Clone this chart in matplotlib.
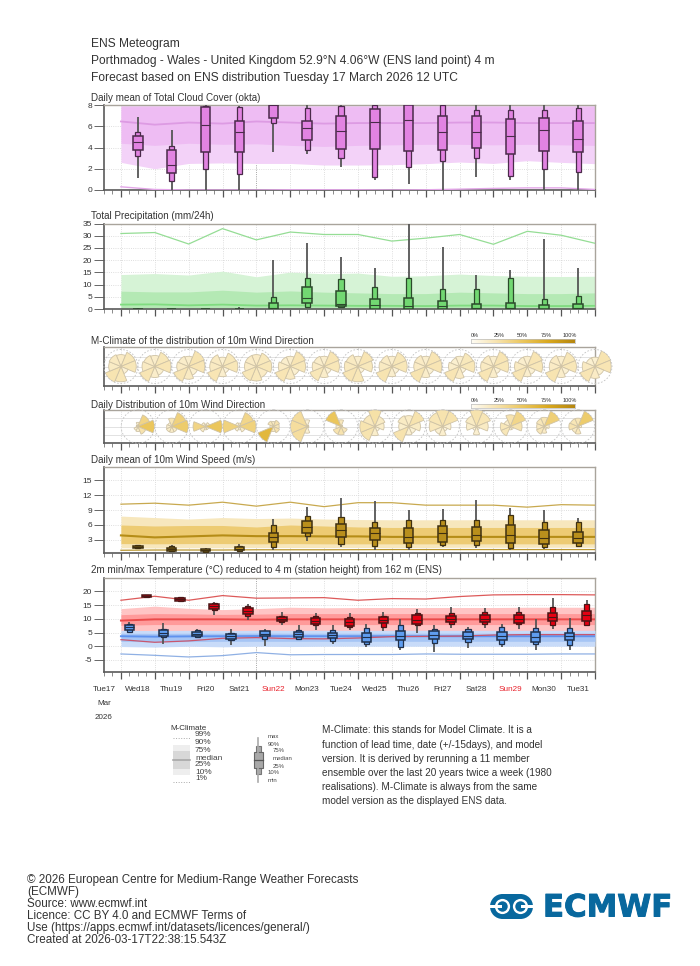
import numpy as np
import matplotlib
matplotlib.use('Agg')
import matplotlib.pyplot as plt
import matplotlib.patheffects as pe
from matplotlib.colors import LinearSegmentedColormap
from matplotlib.patches import Circle, Rectangle
from matplotlib.ticker import MultipleLocator

plt.rcParams['font.family'] = ['Liberation Sans', 'DejaVu Sans']
plt.rcParams['axes.unicode_minus'] = False

W, H = 700, 966
day_labels = ['Tue17','Wed18','Thu19','Fri20','Sat21','Sun22','Mon23','Tue24','Wed25','Thu26','Fri27','Sat28','Sun29','Mon30','Tue31']
climate_days = list(range(1, 16))
box_days = [d + 0.5 for d in range(1, 15)]

# each box row: min, p10, p25, median, p75, p90, max
cloud_boxes = [
 [1.13,3.17,3.8,4.5,5.05,5.45,6.87],[0,.85,1.6,2.32,3.73,4.17,5.67],[0,1.97,3.6,6.14,7.77,7.9,8],
 [0,1.5,3.6,5.42,6.46,7.8,7.93],[3.57,6.27,6.74,8,8,8,8],[3.35,3.76,4.73,5.83,6.46,7.71,8],
 [2.13,3.04,3.89,5.55,7,7.87,8],[.97,1.25,3.89,6.36,7.62,7.96,8],[.56,2.16,3.67,6.6,7.96,8,8],
 [0,2.73,3.73,5.45,6.93,7.96,8],[1.22,2.98,4,5.49,6.96,7.55,8],[.9,1.35,3.39,5.1,6.7,7.49,8],
 [0,1.97,3.64,5.64,6.8,7.55,8],[0,1.69,3.54,4.83,6.49,7.71,8]]
cloud_p1 = [.3,.05,0,0,0,.02,.02,.02,0,.02,.08,.15,.2,.2,.05]
cloud_p10 = [2.6,2.0,2.5,2.55,2.5,2.5,2.35,2.35,2.38,2.48,2.63,2.5,2.76,2.6,2.48]
cloud_p25 = [4.4,4.2,4.4,4.3,4.35,4.2,4.1,4.2,4.25,4.3,4.3,4.25,4.3,4.25,4.2]
cloud_p50 = [6.45,6.15,6.35,6.25,6.45,6.35,6.25,6.3,6.3,6.3,6.35,6.35,6.3,6.3,6.3]
cloud_p75 = [7.85]*15
cloud_p90 = [8]*15

precip_boxes = [
 [0,0,0,.05,.1,.2,.3],[0,0,0,0,0,0,.05],[0,0,0,0,0,0,.05],[0,0,0,0,0,0,.8],
 [0,0,0,.5,2.6,4.9,20],[.8,.8,2.6,4.7,9,12.8,26.9],[.5,.7,1.1,2.2,7.4,12.1,21.4],
 [0,0,0,1.5,4,9,16.6],[0,0,0,1.4,4.7,12.5,35],[0,0,0,1.4,3.4,8,25.2],
 [0,0,0,.5,2.2,8,14.1],[0,0,0,.5,2.6,12.5,15.9],[0,0,0,.2,1.8,4,28.7],[0,0,0,.3,2.2,5.2,16.9]]
precip_p50 = [1.8,1.9,1.5,1.8,1.4,1.5,1.4,1.3,1.3,1.2,1.4,1.4,1.2,1.2,1.3]
precip_p75 = [7.3,7,7,7.7,6.9,7.4,6.9,6.6,6.3,6.3,6.9,6.6,6.3,6.3,6.6]
precip_p90 = [14.1,14.5,13.9,15.5,13.2,15.1,14.4,14.7,13.4,13.6,14.3,13.7,13.4,13.3,13.4]
precip_p99 = [30.9,31.3,26.6,32.9,28.3,31.5,30.5,30.5,27.8,29,30.5,26.5,31.8,30.2,26.9]

wind_boxes = [
 [1.25,1.3,1.45,1.65,1.8,1.9,2.05],[.75,.75,.85,1.2,1.45,1.8,2.05],[.55,.65,.7,.9,1.1,1.2,1.3],
 [.8,.85,.9,1.25,1.5,1.7,2.1],[.9,1.6,2.65,3.5,4.3,5.9,7.2],[2.7,3.75,4.35,5.5,6.9,7.85,9.55],
 [1.6,2.2,3.6,5,6.25,7.6,11.4],[.9,1.7,2.9,4.3,5.4,6.7,10.9],[.9,1.6,2.4,3.5,5.3,7.1,9],
 [1.5,1.9,2.6,4.3,5.7,7.1,9.2],[1.45,1.9,2.7,3.95,5.6,7.1,11],[1.05,1.3,2.4,3.95,6,8.1,9.35],
 [1.1,1.65,2.25,3.3,5,6.6,9],[1.6,1.8,2.4,3.35,4.5,6.7,7.5]]
wind_p1 = [.9,.95,.95,.95,1,1,1,1.02,1.04,1.04,1.04,1.04,1.04,1.04,1.04]
wind_p10 = [1.4,1.35,1.4,1.4,1.45,1.45,1.45,1.45,1.45,1.45,1.5,1.5,1.5,1.5,1.5]
wind_p25 = [2.25,2.2,2.25,2.25,2.2,2.25,2.2,2.2,2.2,2.2,2.2,2.2,2.2,2.2,2.2]
wind_p50 = [3.9,3.5,3.7,3.9,3.75,3.75,3.7,3.7,3.6,3.6,3.6,3.6,3.6,3.6,3.6]
wind_p75 = [6,5.8,5.9,5.9,5.6,6,5.8,5.6,5.5,5.5,5.5,5.5,5.5,5.5,5.5]
wind_p90 = [7.8,7.5,7.2,7.5,7.3,7.4,7.2,7.1,7.05,7.05,7.05,7.05,7.05,7.05,7.05]
wind_p99 = [10.2,10.4,10,10.6,9.8,10.6,9.7,10.5,10.5,10,10,10,9.6,10.1,10]

tmin_boxes = [
 [5.1,5.2,6.05,6.9,7.8,8.25,8.86],[1,3.3,3.9,4.85,5.8,6.4,8.4],[3.15,3.3,3.65,4.4,5.1,5.8,6.4],
 [.35,2.4,2.8,3.65,4.5,5,6.3],[.25,2.55,3.65,4.6,5.45,5.7,6.4],[2.55,2.7,3.3,4.5,5.35,6.05,7.8],
 [1,1.8,2.9,4,5,5.8,7.65],[-.25,.85,1.7,3.3,4.85,6.7,8.25],[-1.2,-.25,2.4,3.9,5.45,7.8,10],
 [-2,1.2,2.55,4,5.45,6.4,7.8],[-.7,1.6,2.65,3.9,5.2,6.4,7.15],[-.25,.7,2.3,3.9,5.2,6.9,8.25],
 [-1.2,.7,1.45,3.5,5.2,6.7,10],[-1.45,.35,2.3,3.65,4.75,6.7,10.2]]
tmax_boxes = [
 [17.85,17.95,18.1,18.3,18.55,18.7,18.8],[16.1,16.4,16.6,17.1,17.6,17.85,18.1],[11.3,13.2,13.6,14.55,15.3,15.65,16],
 [9.45,10.9,11.8,12.85,13.95,14.55,15.3],[7.9,8.75,9.2,9.95,10.8,11.15,12.5],[6.05,7.65,8.25,9.35,10.3,10.9,12.15],
 [6.05,7,7.5,8.75,9.95,10.7,12.15],[5.45,6.9,8.4,9.45,10.55,10.9,12.5],[4.85,7.65,8,9.7,11.3,12.15,13.6],
 [6.55,8.1,8.85,9.95,11.15,12,14.45],[6.55,8,8.85,9.95,11.3,12.4,13.85],[6.4,8,8.6,9.95,11.4,12.4,14.2],
 [6.4,7.9,9.1,10.7,12.25,14.2,17.6],[7.3,7.8,9.35,11.3,12.85,15.5,16.9]]
tmax_p1 = [2.4,1.45,1.95,2.9,3.15,2.8,2.7,3,3.5,3.6,3.7,4.1,4.25,4.25,4.25]
tmax_p10 = [5.5,5.6,5.6,5.6,5.6,5.6,5.6,5.6,5.6,5.6,5.6,5.6,5.6,5.6,5.6]
tmax_p25 = [7.65,7.9,7.9,7.9,7.9,7.9,7.9,7.9,7.9,7.9,7.9,7.9,7.9,7.9,7.9]
tmax_p50 = [9.35,9.8,9.8,9.8,9.7,9.8,9.8,9.8,9.8,9.8,9.8,9.8,9.8,9.8,9.8]
tmax_p75 = [11.5,11.9,11.8,11.6,11.7,11.9,11.9,11.9,11.9,11.9,11.9,11.9,11.9,11.9,11.9]
tmax_p90 = [13.7,14.6,13.8,13.35,13.7,14.2,14,14.1,14.1,14.1,14.1,14.1,14.2,14.2,14.2]
tmax_p99 = [16.75,18.2,16.75,18.45,17.5,17.6,17.7,16.75,17.35,17.2,18.1,18.7,18.8,18.8,18.7]
tmin_p1 = [-2.8,-3.3,-3.9,-3.4,-2.3,-3.1,-3,-3,-3,-2.8,-2.9,-2.9,-2.9,-2.8,-2.8]
tmin_p10 = [-.1,-.3,0,-.2,0,-.1,0,0,0,0,0,0,0,0,0]
tmin_p25 = [1.8,1.6,1.7,1.8,1.8,1.8,1.8,1.8,1.8,1.8,1.8,1.8,1.8,1.8,1.8]
tmin_p50 = [3.65,3.5,3.6,3.65,3.7,3.65,3.65,3.65,3.65,3.65,3.65,3.65,3.65,3.65,3.65]
tmin_p75 = [4.75,4.7,4.75,4.75,4.8,4.75,4.75,4.75,4.75,4.75,4.75,4.75,4.75,4.75,4.75]
tmin_p90 = [5.8,5.7,5.8,5.7,5.8,5.8,5.8,5.8,5.8,5.8,5.8,5.8,5.8,5.8,5.8]

# wind roses: radius share of N, NE, E, SE, S, SW, W, NW
climate_roses = [
 [.7,.9,.9,.45,.9,1,.72,.75],[.65,.9,.95,.55,.65,.95,.75,.7],[.6,1,.95,.55,.75,.95,.7,.65],
 [.55,.85,.9,.4,.6,.95,.75,.75],[.7,.85,.9,.7,.85,.9,.7,.7],[.6,.95,.9,.55,.75,.95,.7,.6],
 [.6,.95,.9,.45,.65,.9,.7,.65],[.6,.95,.85,.4,.9,.95,.8,.75],[.6,.9,.9,.45,.6,1,.75,.7],
 [.6,.95,.95,.5,.65,1,.7,.7],[.6,.85,.9,.4,.7,.95,.65,.55],[.6,.95,.9,.45,.65,.95,.75,.7],
 [.6,.95,.9,.5,.6,.95,.75,.6],[.6,.9,.9,.5,.65,1,.7,.7],[.55,1,.95,.55,.7,.95,.75,.55]]
climate_peak = [.24]*15
daily_roses = [
 [.25,.75,1,.5,.3,.25,.1,.1],[.5,.9,1,.35,.35,.35,.3,.25],[.15,.25,1,.2,.2,.35,.75,.25],
 [.2,.9,1,.35,.2,.3,1,.25],[.3,.4,.35,.4,.3,1,.2,.35],[.4,.1,.1,.1,.4,1,1,1],
 [.4,.1,.1,.4,.5,.5,.3,1],[1,.65,.55,.3,.55,.9,.9,.75],[.65,1,.7,.45,.5,1,.6,.7],
 [1,1,.5,.3,.55,.5,.8,.9],[1,.9,.7,.2,.5,.25,.6,.7],[.7,1,.7,.2,.2,.6,.6,.4],
 [.55,1,.3,.2,.4,.5,.45,.5],[.5,1,.2,.1,.45,.4,.55,.5]]
daily_peak = [.5,.45,.5,.4,.62,.3,.5,.27,.25,.25,.25,.36,.42,.45]

colorbar_labels = ['0%','25%','50%','75%','100%']
climate_legend = ['99%','90%','75%','median','25%','10%','1%']
box_legend = ['max','90%','75%','median','25%','10%','min']

header = ['ENS Meteogram',
          'Porthmadog - Wales - United Kingdom 52.9°N 4.06°W (ENS land point) 4 m',
          'Forecast based on ENS distribution Tuesday 17 March 2026 12 UTC']
note = ['M-Climate: this stands for Model Climate. It is a',
        'function of lead time, date (+/-15days), and model',
        'version. It is derived by rerunning a 11 member',
        'ensemble over the last 20 years twice a week (1980',
        'realisations). M-Climate is always from the same',
        'model version as the displayed ENS data.']
footer = ['© 2026 European Centre for Medium-Range Weather Forecasts', '(ECMWF)', 'Source: www.ecmwf.int',
          'Licence: CC BY 4.0 and ECMWF Terms of', 'Use (https://apps.ecmwf.int/datasets/licences/general/)',
          'Created at 2026-03-17T22:38:15.543Z']

fig = plt.figure(figsize=(W/100, H/100), dpi=100, facecolor='white')
TXT = '#333333'

def ftext(x, y, s, size, color=TXT, **kw):
    kw.setdefault('va', 'center')
    return fig.text(x/W, 1-y/H, s, fontsize=size*0.72, color=color, **kw)

def panel(top, bottom, ylim, yticks, title, title_y):
    ax = fig.add_axes([104/W, 1-bottom/H, 491/W, (bottom-top)/H])
    ax.set_xlim(.5, 15); ax.set_ylim(*ylim)
    ax.xaxis.set_major_locator(MultipleLocator(1))
    ax.xaxis.set_minor_locator(MultipleLocator(.25))
    ax.set_xticklabels([])
    ax.tick_params(axis='x', which='major', length=5, width=.9, color='#555555', labelbottom=False)
    ax.tick_params(axis='x', which='minor', length=3, width=.6, color='#777777')
    ax.set_yticks(yticks)
    ax.tick_params(axis='y', length=7, width=.7, color='#666666', labelsize=6, labelcolor=TXT, pad=1.5)
    ax.grid(True, which='major', color='#d4d4d4', lw=.6, ls=':')
    ax.set_axisbelow(True)
    for s in ('top', 'right'):
        ax.spines[s].set_color('#a9a49c'); ax.spines[s].set_linewidth(1)
    for s in ('left', 'bottom'):
        ax.spines[s].set_color('#5a5a5a'); ax.spines[s].set_linewidth(1.2)
    ftext(91, title_y, title, 9.85)
    return ax

def boxes(ax, xs, table, fill, edge='#3d2b2b', wide=.28, narrow=.15):
    for x, (mn, p10, p25, med, p75, p90, mx) in zip(xs, table):
        ax.vlines(x, mn, mx, color='#555555', lw=1.3, zorder=4)
        ax.bar(x, p90-p10, bottom=p10, width=narrow, fc=fill, ec=edge, lw=.9, zorder=5)
        ax.bar(x, p75-p25, bottom=p25, width=wide, fc=fill, ec=edge, lw=1.1, zorder=6)
        ax.hlines(med, x-wide/2, x+wide/2, color=edge, lw=.8, zorder=7)

# cloud cover
ax1 = panel(105, 190, (0, 8), [0,2,4,6,8], 'Daily mean of Total Cloud Cover (okta)', 98)
ax1.fill_between(climate_days, cloud_p10, cloud_p90, color='#f3d2f8', lw=0, zorder=2)
ax1.fill_between(climate_days, cloud_p25, cloud_p75, color='#eebcf3', lw=0, zorder=2)
ax1.plot(climate_days, cloud_p50, color='#dd9be3', lw=1.3, zorder=3)
ax1.plot(climate_days, cloud_p1, color='#e3a6e8', lw=1, zorder=3)
boxes(ax1, box_days, cloud_boxes, '#e283e2', '#4a2a4a')

# precipitation
ax2 = panel(223.5, 309, (0, 35), [0,5,10,15,20,25,30,35], 'Total Precipitation (mm/24h)', 216)
ax2.fill_between(climate_days, 0, precip_p90, color='#d6f3d6', lw=0, zorder=2)
ax2.fill_between(climate_days, 0, precip_p75, color='#b4e9b4', lw=0, zorder=2)
ax2.plot(climate_days, precip_p50, color='#7fdc7f', lw=1.3, zorder=3)
ax2.plot(climate_days, precip_p99, color='#95dd95', lw=.9, zorder=3)
boxes(ax2, box_days, precip_boxes, '#72d872', '#2b4a2b')

# wind rose strips
rose_cmap = LinearSegmentedColormap.from_list('rose', ['#fffdf5', '#f7e3ae', '#ebc65c', '#d9a81e', '#b5860f'])
ax3 = panel(347, 386, (0, 1), [], 'M-Climate of the distribution of 10m Wind Direction', 341)
ax4 = panel(410, 443, (0, 1), [], 'Daily Distribution of 10m Wind Direction', 405)
for a in (ax3, ax4):
    a.set_yticks([.25, .5, .75]); a.tick_params(axis='y', length=0, labelleft=False)
    a.grid(True, axis='y', color='#e2e2e2', lw=.7, ls='-')

sector_angles = np.deg2rad(np.arange(0, 360, 45))
def rose(ax, day, radii, peak, r_px):
    cx, cy = ax.transData.transform((day, .5))
    rax = fig.add_axes([(cx-r_px)/W, (cy-r_px)/H, 2*r_px/W, 2*r_px/H], projection='polar')
    rax.set_theta_zero_location('N'); rax.set_theta_direction(-1)
    rax.set_ylim(0, 1); rax.set_xticks([]); rax.set_yticks([]); rax.grid(False)
    rax.patch.set_alpha(0)
    rax.spines['polar'].set_linestyle((0, (1, 3)))
    rax.spines['polar'].set_color('#c2c2c2'); rax.spines['polar'].set_linewidth(.6)
    rax.bar(sector_angles, radii, width=np.pi/4, bottom=0,
            color=[rose_cmap(r*peak) for r in radii], edgecolor='#cfc3a6', lw=.6, align='center')

for d, radii, pk in zip(climate_days, climate_roses, climate_peak):
    rose(ax3, d, radii, pk, 17)
for d, radii, pk in zip(box_days, daily_roses, daily_peak):
    rose(ax4, d, radii, pk, 16.7)

def colorbar(y, label_y):
    cax = fig.add_axes([471/W, 1-(y+2)/H, 104/W, 4/H])
    cax.imshow(np.linspace(0, 1, 256)[None, :], aspect='auto', cmap=rose_cmap, extent=(0, 100, 0, 1))
    cax.set_xticks([]); cax.set_yticks([])
    for s in cax.spines.values():
        s.set_color('#bbbbbb'); s.set_linewidth(.5)
    for lab, frac in zip(colorbar_labels, [0, 25, 50, 75, 100]):
        px = 475 + frac*0.95
        ftext(px, label_y, lab, 5.5, ha='center')
colorbar(341, 335)
colorbar(405.5, 400)

# wind speed
ax5 = panel(467, 552.5, (.45, 17.7), [3,6,9,12,15], 'Daily mean of 10m Wind Speed (m/s)', 460)
ax5.fill_between(climate_days, wind_p10, wind_p90, color='#f7e7bd', lw=0, zorder=2)
ax5.fill_between(climate_days, wind_p25, wind_p75, color='#edcb73', lw=0, zorder=2)
ax5.plot(climate_days, wind_p50, color='#b58d17', lw=1.5, zorder=3)
ax5.plot(climate_days, wind_p99, color='#c8a94f', lw=.9, zorder=3)
ax5.plot(climate_days, wind_p1, color='#b9962f', lw=.9, zorder=3)
boxes(ax5, box_days, wind_boxes, '#b98f1c', '#3f3010')

# temperature
ax6 = panel(578, 672, (-9.37, 24.85), [-5,0,5,10,15,20], '2m min/max Temperature (°C) reduced to 4 m (station height) from 162 m (ENS)', 570)
ax6.fill_between(climate_days, tmax_p10, tmax_p90, color='#ffc4c4', lw=0, zorder=2)
ax6.fill_between(climate_days, tmax_p25, tmax_p75, color='#ff9a9a', lw=0, zorder=2)
ax6.plot(climate_days, tmax_p50, color='#ea4a4a', lw=1.4, zorder=3)
ax6.plot(climate_days, tmax_p99, color='#dd5a5a', lw=.9, zorder=3)
ax6.fill_between(climate_days, tmin_p10, tmin_p90, color='#c8dbf9', lw=0, zorder=3)
ax6.fill_between(climate_days, tmin_p25, tmin_p75, color='#a6c5f5', lw=0, zorder=3)
ax6.plot(climate_days, tmin_p50, color='#5f92ee', lw=1.4, zorder=3)
ax6.plot(climate_days, tmin_p1, color='#8fb0e4', lw=.9, zorder=3)
ax6.plot(climate_days, tmax_p1, color='#c8566e', lw=.9, zorder=3)
boxes(ax6, [d+.25 for d in range(1, 15)], tmin_boxes, '#5f9df0', '#1f2f4a')
boxes(ax6, [d+.75 for d in range(1, 15)], tmax_boxes, '#e60012', '#4a1515')
for a in (ax1, ax6):
    a.axvline(5, color='#999999', lw=.6, ls=':', zorder=1)

# date labels
for d, lab in zip([.5+i for i in range(15)], day_labels):
    px = ax6.transData.transform((d, 0))[0]
    ftext(px, 689.5, lab, 8.2, color='#e8202a' if lab.startswith('Sun') else TXT, ha='center')
ftext(104, 703.5, 'Mar', 8, ha='center')
ftext(104, 717.5, '2026', 8, ha='center')

# header and notes
for y, s in zip([44, 61, 78], header):
    ftext(91, y, s, 12)
for y, s in zip([730, 745, 759, 773, 787, 801], note):
    ftext(322, y, s, 10)
for y, s in zip([880, 892, 904, 916, 928, 940], footer):
    ftext(27, y, s, 11.6)

# overlay for the legend and logo
ov = fig.add_axes([0, 0, 1, 1], zorder=-1)
ov.set_xlim(0, W); ov.set_ylim(H, 0); ov.axis('off')

ftext(170, 728.5, 'M-Climate', 8)
for lab, y in zip(climate_legend, [735, 743, 750, 758, 765, 772, 779]):
    ftext(195, y, lab, 8.3, color='#444444')
ov.add_patch(Rectangle((173, 745), 17, 30, fc='#eeeeee', ec='none'))
ov.add_patch(Rectangle((173, 751), 17, 18, fc='#d8d8d8', ec='none'))
ov.plot([173, 190], [759.5, 759.5], color='#a8a8a8', lw=1.2)
for y in (738, 782):
    ov.plot([173, 190], [y, y], color='#aaaaaa', lw=.7, ls=':')
ov.plot([258, 258], [738, 782], color='#aaaaaa', lw=1.2)
ov.add_patch(Rectangle((255.5, 746), 5, 28, fc='#a8a8a8', ec='#777777', lw=.8))
ov.add_patch(Rectangle((254, 752), 9, 16, fc='#a8a8a8', ec='#666666', lw=.8))
ov.plot([254, 263], [760, 760], color='#555555', lw=.9)
for lab, x, y in zip(box_legend, [268, 268, 273, 273, 273, 268, 268], [736, 744, 751, 758, 766, 773, 780]):
    ftext(x, y, lab, 6, color='#444444')

BLUE = '#08689e'
ov.add_patch(Rectangle((503, 894), 18, 25, fc=BLUE, ec='none'))
for cx in (502.5, 520.5):
    ov.add_patch(Circle((cx, 906.5), 12.5, fc=BLUE, ec='none'))
for cx in (502.5, 520.5):
    ov.add_patch(Circle((cx, 906.5), 7.6, fc='white', ec='none'))
    ov.add_patch(Circle((cx, 906.5), 5.2, fc=BLUE, ec='none'))
ov.add_patch(Rectangle((488, 905.4), 14, 2.2, fc='white', ec='none'))
ov.add_patch(Rectangle((521, 905.4), 14, 2.2, fc='white', ec='none'))
ov.set_aspect('equal')
logo = ftext(543, 908, 'ECMWF', 30.8, color=BLUE, fontweight='bold', family='DejaVu Sans', va='center')
logo.set_path_effects([pe.withStroke(linewidth=.7, foreground=BLUE)])

fig.savefig('out.png', dpi=100)
